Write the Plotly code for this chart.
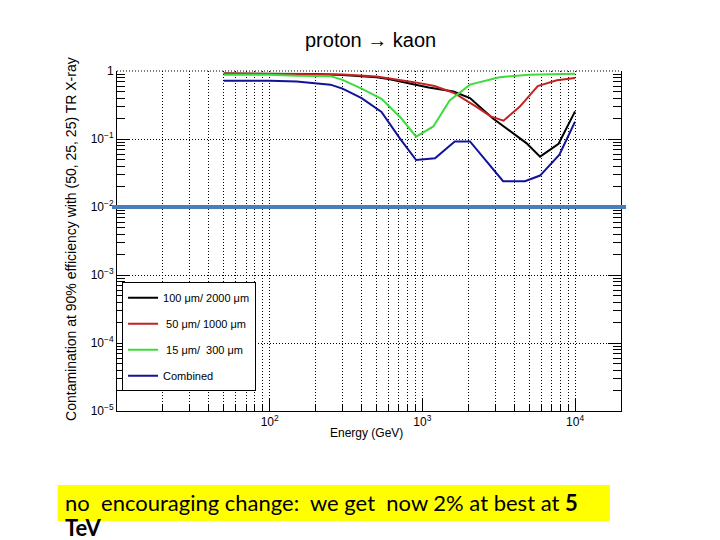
import plotly.graph_objects as go

# ---- data ----
energy_black = [50, 100, 200, 300, 500, 600, 800, 1100, 1600, 2050, 2900, 3500, 4800, 5900, 7800, 10000]
contam_black = [0.92, 0.92, 0.90, 0.87, 0.81, 0.76, 0.67, 0.57, 0.50, 0.40, 0.20, 0.145, 0.087, 0.055, 0.085, 0.255]

energy_red = [50, 300, 500, 700, 900, 1200, 1600, 2250, 2800, 3400, 4350, 5700, 7600, 10000]
contam_red = [0.92, 0.89, 0.83, 0.75, 0.68, 0.60, 0.48, 0.30, 0.215, 0.186, 0.30, 0.60, 0.73, 0.79]

energy_green = [50, 100, 150, 250, 300, 400, 540, 730, 910, 1180, 1510, 2050, 3200, 5000, 10000]
contam_green = [0.88, 0.88, 0.85, 0.84, 0.74, 0.55, 0.39, 0.20, 0.108, 0.153, 0.37, 0.63, 0.81, 0.88, 0.91]

energy_blue = [50, 100, 150, 200, 250, 300, 400, 540, 710, 910, 1210, 1630, 2050, 3380, 4700, 5900, 7900, 10000]
contam_blue = [0.72, 0.72, 0.70, 0.66, 0.63, 0.55, 0.40, 0.25, 0.103, 0.049, 0.052, 0.092, 0.092, 0.024, 0.024, 0.029, 0.059, 0.18]

series_names = ["100\u00a0\u03bcm/\u00a02000\u00a0\u03bcm",
                "\u00a050\u00a0\u03bcm/\u00a01000\u00a0\u03bcm",
                "\u00a015\u00a0\u03bcm/\u00a0\u00a0300\u00a0\u03bcm",
                "Combined"]
series_colors = ["#000000", "#c42222", "#3ddc3d", "#12129a"]

x_tickvals = [100, 1000, 10000]
x_ticktext = ["10<sup>2</sup>", "10<sup>3</sup>", "10<sup>4</sup>"]
y_tickvals = [1e-5, 1e-4, 1e-3, 1e-2, 1e-1, 1]
y_ticktext = ["10<sup>\u22125</sup>", "10<sup>\u22124</sup>", "10<sup>\u22123</sup>",
              "10<sup>\u22122</sup>", "10<sup>\u22121</sup>", "1"]
threshold_level = 1e-2

x_minor = [m * 10 ** d for d in (1, 2, 3) for m in range(2, 10)] + [20000]
y_minor = [m * 10 ** d for d in (-5, -4, -3, -2, -1) for m in range(2, 10)]

FONT = "Liberation Sans, Arial, sans-serif"
NOTE_FONT = "Lato, Open Sans, sans-serif"
DOT = "1px,2px"

fig = go.Figure()
all_x = [energy_black, energy_red, energy_green, energy_blue]
all_y = [contam_black, contam_red, contam_green, contam_blue]
for i, (xs, ys, name, col) in enumerate(zip(all_x, all_y, series_names, series_colors)):
    fig.add_trace(go.Scatter(x=xs, y=ys, mode="lines", name=name,
                             line=dict(color=col, width=2),
                             legendgroup=f"g{i}"))

# page has an 8px body margin, so the figure is 8px smaller on each axis
fig.update_layout(
    width=712, height=532,
    margin=dict(l=109, r=99, t=63, b=129),
    paper_bgcolor="white", plot_bgcolor="white",
    font=dict(family=FONT, color="black", size=12),
    showlegend=True,
    legend=dict(x=0.01, y=0.379, xanchor="left", yanchor="top",
                bgcolor="white", bordercolor="black", borderwidth=1,
                font=dict(family=FONT, size=11, color="black"),
                tracegroupgap=7, traceorder="grouped",
                itemwidth=30),
)

fig.update_xaxes(
    type="log", range=[1, 4.301],
    tickvals=x_tickvals, ticktext=x_ticktext,
    ticks="inside", ticklen=12, tickcolor="black",
    showline=True, linecolor="black", linewidth=1, mirror=False,
    showgrid=True, gridcolor="black", griddash=DOT, gridwidth=1,
    tickfont=dict(size=12),
    minor=dict(tickvals=x_minor, ticks="inside", ticklen=6, tickcolor="black",
               showgrid=True, gridcolor="black", griddash=DOT, gridwidth=1),
)
fig.update_yaxes(
    type="log", range=[-5, 0],
    tickvals=y_tickvals, ticktext=y_ticktext,
    ticks="inside", ticklen=13, tickcolor="black",
    showline=True, linecolor="black", linewidth=1, mirror="ticks",
    showgrid=True, gridcolor="black", griddash=DOT, gridwidth=1,
    tickfont=dict(size=12),
    minor=dict(tickvals=y_minor, ticks="inside", ticklen=8, tickcolor="black",
               showgrid=False),
)

# top dotted grid line at y = 1 (edge of the frame)
fig.add_shape(type="line", xref="paper", yref="paper", x0=0, x1=1, y0=1, y1=1,
              line=dict(color="black", width=1, dash=DOT))

# overlaid horizontal threshold line
fig.add_shape(type="line", xref="paper", yref="y", x0=-0.01, x1=1.01,
              y0=threshold_level, y1=threshold_level,
              line=dict(color="#4a7ebb", width=4))

# title
fig.add_annotation(text="proton \u2192 kaon", xref="paper", yref="paper",
                   x=0.503, y=1.09, xanchor="center", yanchor="middle", showarrow=False,
                   font=dict(family=FONT, size=20, color="black"))
# y-axis title
fig.add_annotation(text="Contamination at 90% efficiency with (50, 25, 25) TR X-ray",
                   xref="paper", yref="paper", x=-0.09, y=0.505, textangle=-90,
                   xanchor="center", yanchor="middle",
                   showarrow=False, font=dict(family=FONT, size=14, color="black"))
# x-axis title
fig.add_annotation(text="Energy (GeV)", xref="paper", yref="paper",
                   x=0.495, y=-0.065, xanchor="center", yanchor="middle", showarrow=False,
                   font=dict(family=FONT, size=12, color="black"))

# yellow note box
fig.add_shape(type="rect", xref="paper", yref="paper",
              x0=-0.1178, x1=0.978, y0=-0.3235, y1=-0.2176,
              fillcolor="#ffff00", line=dict(width=0), layer="below")
fig.add_annotation(text="no\u00a0\u00a0encouraging change:\u00a0\u00a0we get\u00a0\u00a0now 2% at best at <b>5</b>",
                   xref="paper", yref="paper", x=-0.108, y=-0.27,
                   xanchor="left", yanchor="middle", showarrow=False,
                   font=dict(family=NOTE_FONT, size=22, color="black"))
fig.add_annotation(text="<b>TeV</b>",
                   xref="paper", yref="paper", x=-0.108, y=-0.342,
                   xanchor="left", yanchor="middle", showarrow=False,
                   font=dict(family=NOTE_FONT, size=22, color="black"))

fig.write_html("out.html")
